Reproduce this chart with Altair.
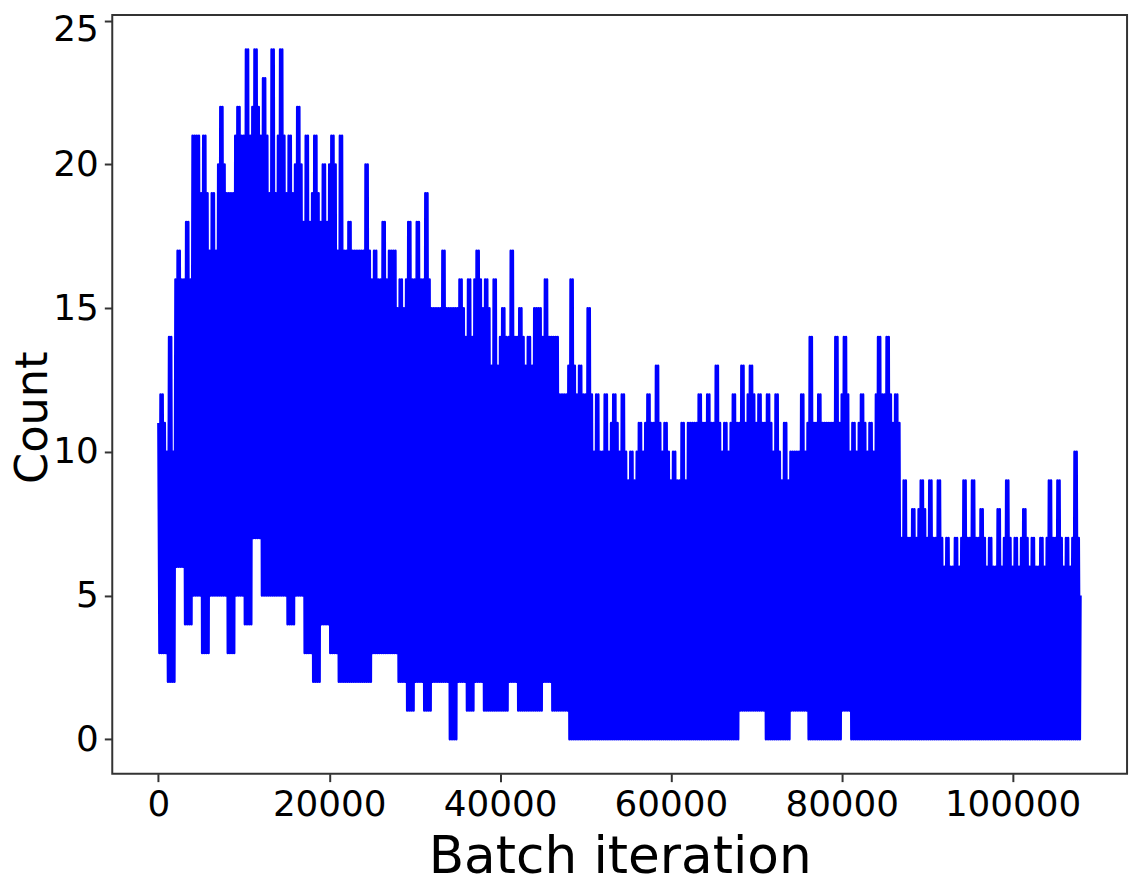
import altair as alt
import pandas as pd

# Envelope of the per-iteration count, read per 1000-iteration bin:
# bin_hi   = highest spike in the bin
# bin_base = level the dense band reaches around that spike
# bin_lo   = lowest dip in the bin
bin_width = 1000
bin_hi = [12, 14, 17, 18, 21, 21, 19, 22, 19, 22,
          24, 24, 23, 24, 24, 21, 22, 21, 21, 20,
          21, 21, 18, 17, 20, 17, 18, 17, 16, 18,
          18, 19, 15, 17, 15, 16, 16, 17, 16, 16,
          15, 17, 15, 14, 15, 16, 14, 12, 16, 13,
          15, 12, 12, 12, 12, 10, 11, 12, 13, 11,
          10, 11, 11, 12, 12, 13, 11, 12, 13, 13,
          12, 12, 12, 11, 10, 12, 14, 12, 11, 14,
          14, 11, 12, 11, 14, 14, 12, 9, 8, 9,
          9, 9, 7, 7, 9, 9, 8, 7, 8, 9,
          7, 8, 7, 7, 9, 9, 7, 10]
bin_base = [11, 10, 16, 16, 21, 19, 17, 20, 19, 21,
            21, 22, 21, 19, 21, 19, 20, 18, 19, 18,
            20, 17, 17, 17, 17, 16, 16, 17, 15, 16,
            16, 16, 15, 15, 15, 15, 14, 16, 15, 13,
            14, 14, 14, 13, 15, 14, 14, 12, 13, 12,
            12, 10, 10, 11, 10, 9, 10, 11, 11, 10,
            9, 9, 11, 11, 11, 11, 10, 11, 11, 12,
            11, 11, 10, 9, 10, 10, 11, 11, 11, 11,
            12, 10, 11, 10, 12, 12, 11, 7, 7, 8,
            7, 7, 6, 6, 7, 7, 7, 6, 6, 7,
            6, 7, 6, 6, 7, 7, 6, 7]
bin_lo = [3, 2, 6, 4, 5, 3, 5, 5, 3, 5,
          4, 7, 5, 5, 5, 4, 5, 3, 2, 4,
          3, 2, 2, 2, 2, 3, 3, 3, 2, 1,
          2, 1, 2, 2, 0, 2, 1, 2, 1, 1,
          1, 2, 1, 1, 1, 2, 1, 1, 0, 0,
          0, 0, 0, 0, 0, 0, 0, 0, 0, 0,
          0, 0, 0, 0, 0, 0, 0, 0, 1, 1,
          1, 0, 0, 0, 1, 1, 0, 0, 0, 0,
          1, 0, 0, 0, 0, 0, 0, 0, 0, 0,
          0, 0, 0, 0, 0, 0, 0, 0, 0, 0,
          0, 0, 0, 0, 0, 0, 0, 0]
last_iter = 107950
last_count = 5

x_ticks = [0, 20000, 40000, 60000, 80000, 100000]
y_ticks = [0, 5, 10, 15, 20, 25]

rows = []
steps_per_bin = 8
for k in range(len(bin_hi)):
    tops = [bin_base[k], bin_hi[k], bin_hi[k], bin_base[k]]
    for j in range(steps_per_bin):
        val = tops[j // 2] if j % 2 == 0 else bin_lo[k]
        rows.append({"iter": k * bin_width + j * bin_width // steps_per_bin,
                     "count": val})
rows.append({"iter": last_iter, "count": last_count})
df = pd.DataFrame(rows)
df["i"] = range(len(df))

font = "DejaVu Sans"
axis_common = dict(grid=False, domain=False, tickColor="#333333", tickWidth=2,
                   tickSize=8, labelFont=font, labelFontSize=36, labelColor="black",
                   titleFont=font, titleFontWeight="normal", titleColor="black",
                   labelOverlap=False)

chart = alt.Chart(df).mark_line(
    color="#0000ff", strokeWidth=2.5, strokeJoin="round", clip=True
).encode(
    x=alt.X("iter:Q",
            scale=alt.Scale(domain=[-5400, 113400], nice=False, zero=False),
            axis=alt.Axis(title="Batch iteration", values=x_ticks, format="d",
                          labelPadding=6, titlePadding=10, titleFontSize=52,
                          labelFlush=False, **axis_common)),
    y=alt.Y("count:Q",
            scale=alt.Scale(domain=[-1.2, 25.2], nice=False, zero=False),
            axis=alt.Axis(title="Count", values=y_ticks, format="d",
                          labelPadding=6, titleFontSize=45, labelFlush=10,
                          labelFlushOffset=8,
                          titleX=-80, titleY=405, titleAngle=270,
                          titleBaseline="middle", titleAlign="center",
                          **axis_common)),
    order="i:Q",
).properties(
    width=1022, height=764,
    autosize=alt.AutoSizeParams(type="none"),
    padding={"left": 105, "top": 4, "right": 7, "bottom": 112},
).configure_view(stroke="#333333", strokeWidth=2)

chart.save("out.html", embed_options={"renderer": "svg", "actions": False})
